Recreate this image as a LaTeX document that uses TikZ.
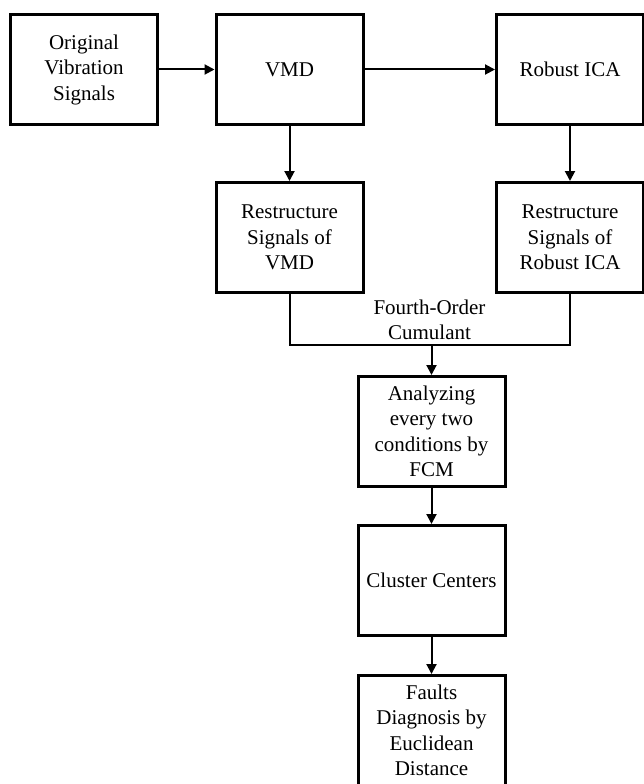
\documentclass[tikz,border=0pt]{standalone}
\usepackage{fontspec}
\setmainfont{Liberation Serif}
\usetikzlibrary{arrows.meta}

\tikzset{
  stage/.style={draw, line width=3pt, minimum width=147pt, minimum height=110pt,
    align=center, inner sep=2pt, font=\fontsize{21pt}{25.5pt}\selectfont},
  link/.style={line width=2pt},
}

\begin{document}
\begin{tikzpicture}[x=1pt,y=-1pt,>={Triangle[length=10pt,width=10pt]}]
    \useasboundingbox (0,0) rectangle (644,784);
    \node [stage] (orig) at (84,69.5) {Original\\Vibration\\Signals};
    \node [stage] (vmd) at (289.5,69.5) {VMD};
    \node [stage] (rica) at (570,69.5) {Robust ICA};
    \node [stage] (rvmd) at (289.5,237.5) {Restructure\\Signals of\\VMD};
    \node [stage] (rrica) at (570,237.5) {Restructure\\Signals of\\Robust ICA};
    \node [stage] (fcm) at (431.5,431.5) {Analyzing\\every two\\conditions by\\FCM};
    \node [stage] (cc) at (431.5,580.5) {Cluster Centers};
    \node [stage] (fd) at (431.5,730.5) {Faults\\Diagnosis by\\Euclidean\\Distance};
    \node [align=center, font=\fontsize{21pt}{25.5pt}\selectfont] (foc) at (429.5,320) {Fourth-Order\\Cumulant};
    \coordinate (join) at (431.5,345);
    \draw [link,->] (orig) -- (vmd);
    \draw [link,->] (vmd) -- (rica);
    \draw [link,->] (vmd) -- (rvmd);
    \draw [link,->] (rica) -- (rrica);
    \draw [link] (rvmd) |- (join) -| (rrica);
    \draw [link,->] (join) -- (fcm);
    \draw [link,->] (fcm) -- (cc);
    \draw [link,->] (cc) -- (fd);
\end{tikzpicture}
\end{document}
